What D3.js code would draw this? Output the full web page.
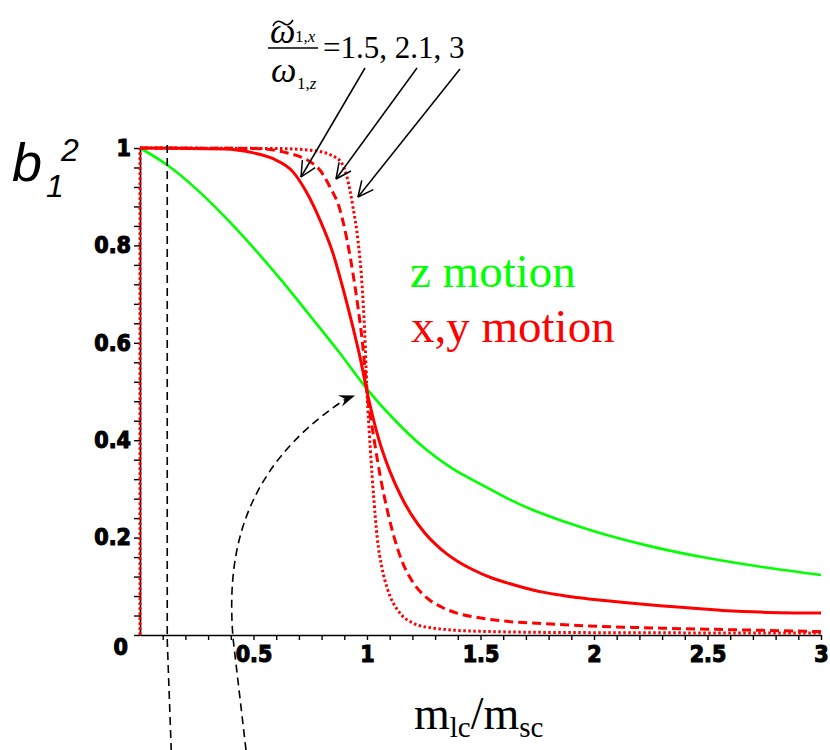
<!DOCTYPE html>
<html>
<head>
<meta charset="utf-8">
<script src="https://cdn.jsdelivr.net/npm/d3@7"></script>
<style>
  html, body { margin: 0; padding: 0; background: #fff; }
  svg { display: block; }
</style>
</head>
<body>
<svg id="chart" width="830" height="750"></svg>
<script>
// b1^2 as a function of the mass ratio m_lc/m_sc:
// z motion (green) and x,y motion (red) for three frequency ratios.

const zMotion = [
  [0, 1], [0.12, 0.965], [0.25, 0.915], [0.375, 0.858], [0.5, 0.795],
  [0.625, 0.727], [0.75, 0.655], [0.875, 0.582], [1, 0.505], [1.125, 0.44],
  [1.25, 0.385], [1.375, 0.342], [1.5, 0.31], [1.625, 0.279], [1.75, 0.253],
  [1.875, 0.232], [2, 0.213], [2.25, 0.182], [2.5, 0.158], [2.75, 0.139], [3, 0.123]
];

// frequency ratio 1.5 (solid)
const xyRatio15 = [
  [0, 0], [0, 1], [0.37, 0.998], [0.5, 0.99], [0.586, 0.978], [0.674, 0.951],
  [0.735, 0.908], [0.793, 0.852], [0.85, 0.784], [0.894, 0.712], [0.938, 0.632],
  [0.969, 0.571], [1, 0.5], [1.05, 0.405], [1.1, 0.337], [1.15, 0.285],
  [1.2, 0.244], [1.25, 0.212], [1.3, 0.187], [1.35, 0.167], [1.4, 0.151],
  [1.467, 0.134], [1.55, 0.117], [1.617, 0.107], [1.7, 0.096], [1.762, 0.089],
  [1.85, 0.082], [1.907, 0.078], [2, 0.073], [2.145, 0.066], [2.29, 0.06],
  [2.436, 0.055], [2.586, 0.05], [2.731, 0.047], [3, 0.045]
];

// frequency ratio 2.1 (dashed)
const xyRatio21 = [
  [0, 0], [0, 1], [0.5, 0.999], [0.63, 0.992], [0.78, 0.961], [0.837, 0.92],
  [0.881, 0.873], [0.912, 0.811], [0.938, 0.743], [0.96, 0.674], [0.982, 0.591],
  [1, 0.5], [1.03, 0.405], [1.06, 0.322], [1.09, 0.255], [1.12, 0.2],
  [1.16, 0.145], [1.2, 0.11], [1.264, 0.076], [1.33, 0.057], [1.396, 0.045],
  [1.5, 0.035], [1.617, 0.028], [1.75, 0.024], [1.907, 0.02], [2.3, 0.014],
  [2.7, 0.01], [3, 0.007]
];

// frequency ratio 3 (dotted)
const xyRatio30 = [
  [0, 0], [0, 1], [0.6, 0.999], [0.76, 0.995], [0.868, 0.979], [0.912, 0.94],
  [0.938, 0.879], [0.96, 0.811], [0.978, 0.72], [0.99, 0.62], [1, 0.5],
  [1.015, 0.38], [1.03, 0.28], [1.045, 0.2], [1.065, 0.14], [1.09, 0.095],
  [1.145, 0.045], [1.2, 0.025], [1.264, 0.016], [1.467, 0.008], [1.9, 0.005],
  [3, 0.004]
];

const xTickValues = [0.5, 1, 1.5, 2, 2.5, 3];
const xTickLabels = ["0.5", "1", "1.5", "2", "2.5", "3"];
const yTickValues = [0, 0.2, 0.4, 0.6, 0.8, 1];
const yTickLabels = ["0", "0.2", "0.4", "0.6", "0.8", "1"];
const ratioLabels = ["1.5", "2.1", "3"];
const guideX = 0.12;        // vertical dashed guide
const crossPoint = [1, 0.5]; // common crossing of all curves

const GREEN = "#00ff00";
const RED = "#ff0000";
const SERIF = "'Liberation Serif', 'Times New Roman', serif";
const SANS = "'Liberation Sans', Arial, sans-serif";
const TICKFONT = "'Liberation Sans Narrow', 'DejaVu Sans Condensed', 'Liberation Sans', sans-serif";

const svg = d3.select("#chart");
svg.append("rect").attr("width", 830).attr("height", 750).attr("fill", "#fff");

const x = d3.scaleLinear().domain([0, 3]).range([140, 821]);
const y = d3.scaleLinear().domain([0, 1]).range([635, 148]);

const near = (a, b) => Math.abs(a - b) < 1e-6;

// ---- axes ----
const xAxis = d3.axisBottom(x)
  .tickValues(d3.range(1, 31).map(i => i / 10))
  .tickSize(5).tickSizeOuter(0).tickPadding(6)
  .tickFormat(d => {
    const i = xTickValues.findIndex(v => near(v, d));
    return i >= 0 ? xTickLabels[i] : "";
  });

const yAxis = d3.axisLeft(y)
  .tickValues(d3.range(0, 26).map(i => i * 0.04))
  .tickSize(6).tickSizeOuter(0).tickPadding(3)
  .tickFormat(d => {
    const i = yTickValues.findIndex(v => near(v, d));
    return i >= 0 ? yTickLabels[i] : "";
  });

function styleAxis(g) {
  g.select(".domain").attr("stroke", "#000").attr("stroke-width", 1.6);
  g.selectAll(".tick line").attr("stroke", "#000").attr("stroke-width", 1.4);
  g.selectAll(".tick text")
    .attr("fill", "#000")
    .attr("stroke", "#000").attr("stroke-width", 1.1)
    .style("font-family", TICKFONT).style("font-weight", "bold").style("font-size", "23px");
}

const gx = svg.append("g").attr("transform", `translate(0,${y(0)})`).call(xAxis);
gx.attr("font-family", null).attr("font-size", null);
styleAxis(gx);

const gy = svg.append("g").attr("transform", `translate(${x(0)},0)`).call(yAxis);
gy.attr("font-family", null).attr("font-size", null);
styleAxis(gy);
// the zero label sits a little below the corner
gy.selectAll(".tick text").filter(d => near(d, 0)).attr("dy", "0.85em").attr("x", -12);

// ---- curves ----
const curveLine = d3.line().x(d => x(d[0])).y(d => y(d[1])).curve(d3.curveMonotoneX);
const straightLine = d3.line().x(d => x(d[0])).y(d => y(d[1]));

svg.append("path").datum(zMotion)
  .attr("d", curveLine).attr("fill", "none")
  .attr("stroke", GREEN).attr("stroke-width", 2.6);

const redSeries = [
  { data: xyRatio30, dash: "2.5,2.5" },
  { data: xyRatio21, dash: "9,5" },
  { data: xyRatio15, dash: null }
];
redSeries.forEach(s => {
  // rise at the origin, then the smooth curve
  svg.append("path").datum(s.data.slice(0, 2))
    .attr("d", straightLine).attr("fill", "none")
    .attr("stroke", RED).attr("stroke-width", 2.4)
    .attr("stroke-dasharray", "2.5,2.5");
  svg.append("path").datum(s.data.slice(1))
    .attr("d", curveLine).attr("fill", "none")
    .attr("stroke", RED).attr("stroke-width", 3)
    .attr("stroke-dasharray", s.dash);
});

// ---- dashed guides ----
const gxPix = x(guideX);
svg.append("path")
  .attr("d", `M${gxPix},${y(1) - 3} L${gxPix},${y(0) + 5} L${gxPix + 4},750`)
  .attr("fill", "none").attr("stroke", "#000").attr("stroke-width", 1.6)
  .attr("stroke-dasharray", "8,5");

const tipX = x(crossPoint[0]) - 12, tipY = y(crossPoint[1]) + 4;
svg.append("path")
  .attr("d", `M246,750 L233,638 C227,560 238,470 ${tipX - 10},${tipY + 4}`)
  .attr("fill", "none").attr("stroke", "#000").attr("stroke-width", 1.6)
  .attr("stroke-dasharray", "8,5");
{
  const ang = Math.atan2(-8, 22);
  const L = 16, Wd = 6;
  const bx = tipX - L * Math.cos(ang), by = tipY - L * Math.sin(ang);
  const nx = -Math.sin(ang), ny = Math.cos(ang);
  const mx = tipX - 0.65 * L * Math.cos(ang), my = tipY - 0.65 * L * Math.sin(ang);
  svg.append("path")
    .attr("d", `M${tipX},${tipY} L${bx + nx * Wd},${by + ny * Wd} L${mx},${my} L${bx - nx * Wd},${by - ny * Wd} Z`)
    .attr("fill", "#000");
}

// ---- frequency ratio annotation ----
const ann = svg.append("g").style("font-family", SERIF).attr("fill", "#000");
// numerator: omega with a tilde accent and subscript 1,x
const num = ann.append("text").style("font-size", "36px");
num.append("tspan").attr("x", 270).attr("y", 43).style("font-style", "italic").text("\u03C9");
num.append("tspan").attr("x", 295).attr("y", 42).style("font-size", "17px").text("1,");
num.append("tspan").style("font-size", "17px").style("font-style", "italic").text("x");
// tilde accent stroke over the omega
ann.append("path")
  .attr("d", "M273,26 C275,21 279,20 283,23 C287,26 290,25 293,20")
  .attr("fill", "none").attr("stroke", "#000").attr("stroke-width", 1.6);

ann.append("line").attr("x1", 268).attr("x2", 318).attr("y1", 48).attr("y2", 48)
  .attr("stroke", "#000").attr("stroke-width", 1.5);

const den = ann.append("text").style("font-size", "36px");
den.append("tspan").attr("x", 271).attr("y", 82).style("font-style", "italic").text("\u03C9");
den.append("tspan").attr("x", 297).attr("y", 89).style("font-size", "17px").text("1,");
den.append("tspan").style("font-size", "17px").style("font-style", "italic").text("z");

ann.append("text").attr("x", 323).attr("y", 58).style("font-size", "31px")
  .text("=" + ratioLabels.join(", "));

const arrows = [
  { from: [365, 68], to: [301, 177] },
  { from: [417, 68], to: [336, 179] },
  { from: [460, 69], to: [358, 197] }
];
arrows.forEach(a => {
  const [x1, y1] = a.from, [x2, y2] = a.to;
  svg.append("line").attr("x1", x1).attr("y1", y1).attr("x2", x2).attr("y2", y2)
    .attr("stroke", "#000").attr("stroke-width", 1.5);
  const ang = Math.atan2(y2 - y1, x2 - x1);
  [0.45, -0.45].forEach(da => {
    svg.append("line")
      .attr("x1", x2).attr("y1", y2)
      .attr("x2", x2 - 17 * Math.cos(ang + da)).attr("y2", y2 - 17 * Math.sin(ang + da))
      .attr("stroke", "#000").attr("stroke-width", 1.5);
  });
});

// ---- legend ----
svg.append("text").attr("x", 410).attr("y", 287)
  .style("font-family", SERIF).style("font-size", "47px").attr("fill", GREEN)
  .text("z motion");
svg.append("text").attr("x", 411).attr("y", 342)
  .style("font-family", SERIF).style("font-size", "47px").attr("fill", RED)
  .text("x,y motion");

// ---- axis titles ----
const xt = svg.append("text").attr("x", 414).attr("y", 729)
  .style("font-family", SERIF).style("font-size", "46px").attr("fill", "#000");
xt.append("tspan").text("m");
xt.append("tspan").style("font-size", "29px").attr("dy", 8).text("lc");
xt.append("tspan").attr("dy", -8).text("/m");
xt.append("tspan").style("font-size", "29px").attr("dy", 8).text("sc");

const yt = svg.append("g").style("font-family", SANS).style("font-style", "italic").attr("fill", "#000");
yt.append("text").attr("x", 12).attr("y", 181).style("font-size", "54px").text("b");
yt.append("text").attr("x", 46).attr("y", 197).style("font-size", "32px").text("1");
yt.append("text").attr("x", 61).attr("y", 161).style("font-size", "32px").text("2");
</script>
</body>
</html>
